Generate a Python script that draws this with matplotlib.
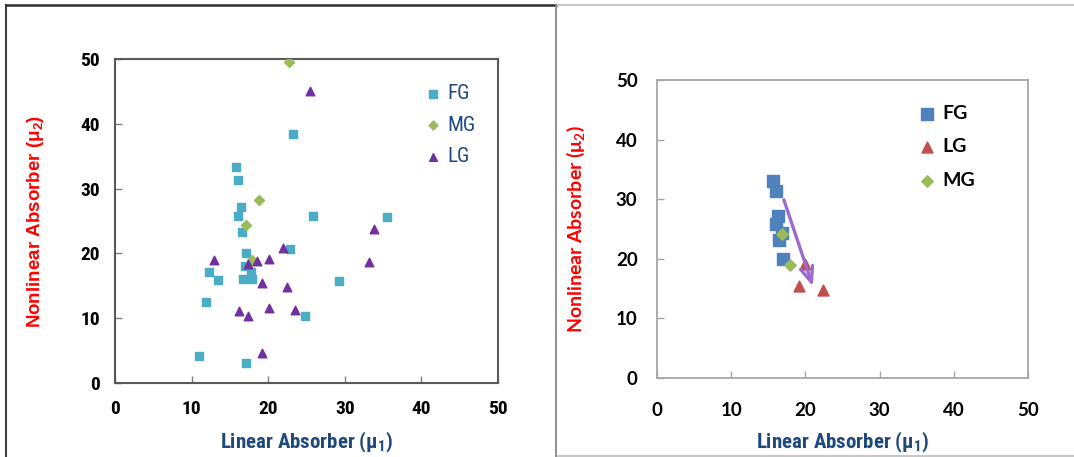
import matplotlib
matplotlib.use("Agg")
import matplotlib.pyplot as plt
from matplotlib.lines import Line2D
import matplotlib.font_manager as fm

# ---------------- data ----------------
# Left panel
fg_left_x = [11.0, 17.1, 11.9, 12.3, 13.5, 15.8, 16.0, 16.4, 16.0, 16.6, 17.1, 17.0, 17.7, 16.7, 17.9,
             22.8, 23.3, 25.9, 24.8, 29.3, 35.5]
fg_left_y = [4.2, 3.1, 12.5, 17.1, 15.9, 33.3, 31.4, 27.2, 25.8, 23.3, 20.0, 18.1, 17.1, 16.0, 16.0,
             20.7, 38.4, 25.8, 10.4, 15.8, 25.6]
mg_left_x = [22.7, 18.8, 17.1, 17.9]
mg_left_y = [49.5, 28.3, 24.4, 19.0]
lg_left_x = [25.4, 12.9, 17.3, 18.5, 20.1, 21.9, 19.2, 22.5, 16.2, 17.3, 20.1, 23.5, 19.2, 33.8, 33.2]
lg_left_y = [45.0, 19.0, 18.4, 18.9, 19.2, 20.9, 15.5, 14.8, 11.1, 10.3, 11.5, 11.3, 4.7, 23.8, 18.7]

# Right panel
fg_right_x = [15.7, 16.0, 16.3, 16.0, 16.9, 16.5, 17.0]
fg_right_y = [33.1, 31.4, 27.1, 25.8, 24.3, 23.2, 20.0]
lg_right_x = [20.0, 19.1, 22.4]
lg_right_y = [19.2, 15.5, 14.8]
mg_right_x = [16.9, 17.9]
mg_right_y = [24.2, 18.9]
arrow_start = (17.1, 29.9)
arrow_end = (21.0, 15.4)

ticks = [0, 10, 20, 30, 40, 50]

# ---------------- fonts ----------------
names = {f.name for f in fm.fontManager.ttflist}
narrow_cands = ['Liberation Sans Narrow', 'Roboto Condensed', 'DejaVu Sans Condensed', 'Open Sans Condensed']
narrow = [n for n in narrow_cands if n in names] + ['Liberation Sans', 'DejaVu Sans']
narrow = narrow[:1] + ['DejaVu Sans']
calib = ['Lato', 'DejaVu Sans']

W, H = 1074, 457
fig = plt.figure(figsize=(W / 100, H / 100), dpi=100)
fig.patch.set_facecolor('white')

def fx(px):
    return px / W

def fy(py):
    return 1 - py / H

# ---------------- left panel ----------------
axL = fig.add_axes([fx(115), fy(383), fx(498) - fx(115), fy(59) - fy(383)])
axL.scatter(fg_left_x, fg_left_y, marker='s', s=34, color='#4bacc6', label='FG', zorder=3)
axL.scatter(mg_left_x, mg_left_y, marker='D', s=26, color='#9bbb59', label='MG', zorder=3)
axL.scatter(lg_left_x, lg_left_y, marker='^', s=38, color='#7030a0', label='LG', zorder=3)
axL.set_xlim(0, 50)
axL.set_ylim(0, 50)
axL.set_xticks(ticks)
axL.set_yticks(ticks)
for sp in axL.spines.values():
    sp.set_color('#595959')
    sp.set_linewidth(1.5)
axL.tick_params(direction='in', length=5, color='#808080', width=1)
axL.tick_params(axis='x', pad=12)
axL.tick_params(axis='y', pad=11)
for lab in axL.get_xticklabels() + axL.get_yticklabels():
    lab.set_fontfamily(narrow)
    lab.set_fontweight('bold')
    lab.set_fontsize(14)
axL.set_xlabel(r'Linear Absorber ($\mathregular{\mu_1}$)', family=narrow, fontweight='bold',
               fontsize=15, color='#1f497d')
axL.set_ylabel(r'Nonlinear Absorber ($\mathregular{\mu_2}$)', family=['Liberation Sans', 'DejaVu Sans'],
               fontweight='bold', fontsize=13.5, color='#ff0000')
axL.xaxis.set_label_coords(0.5, -0.145)
axL.yaxis.set_label_coords(-0.18, 0.5)
legL = axL.legend(loc='upper left', bbox_to_anchor=(0.76, 0.98), frameon=False, handletextpad=0.3,
                  labelspacing=0.6, handlelength=0.8, markerscale=0.9,
                  prop=fm.FontProperties(family=narrow, size=15))
for t in legL.get_texts():
    t.set_color('#1f497d')

# ---------------- right panel ----------------
axR = fig.add_axes([fx(657), fy(378), fx(1028) - fx(657), fy(80) - fy(378)])
axR.scatter(fg_right_x, fg_right_y, marker='s', s=70, color='#4f81bd', label='FG', zorder=3)
axR.scatter(lg_right_x, lg_right_y, marker='^', s=62, color='#c0504d', label='LG', zorder=3)
axR.scatter(mg_right_x, mg_right_y, marker='D', s=34, color='#9bbb59', label='MG', zorder=4)
axR.annotate('', xy=arrow_end, xytext=arrow_start,
             arrowprops=dict(arrowstyle='->, head_width=0.45, head_length=1.1', color='#9b6bd0',
                             lw=2.4, shrinkA=0, shrinkB=0), zorder=5)
axR.set_xlim(0, 50)
axR.set_ylim(0, 50)
axR.set_xticks(ticks)
axR.set_yticks(ticks)
for sp in axR.spines.values():
    sp.set_color('#a6a6a6')
    sp.set_linewidth(1.3)
axR.tick_params(direction='in', length=5, color='#a6a6a6', width=1)
axR.tick_params(axis='x', pad=17)
axR.tick_params(axis='y', pad=14)
for lab in axR.get_xticklabels() + axR.get_yticklabels():
    lab.set_fontfamily(calib)
    lab.set_fontweight('bold')
    lab.set_fontsize(13.5)
axR.set_xlabel(r'Linear Absorber ($\mathregular{\mu_1}$)', family=narrow, fontweight='bold',
               fontsize=15, color='#1f497d')
axR.set_ylabel(r'Nonlinear Absorber ($\mathregular{\mu_2}$)', family=calib, fontweight='bold',
               fontsize=14, color='#ff0000')
axR.xaxis.set_label_coords(0.5, -0.175)
axR.yaxis.set_label_coords(-0.19, 0.5)
legR = axR.legend(loc='upper left', bbox_to_anchor=(0.66, 0.975), frameon=False, handletextpad=0.4,
                  labelspacing=0.85, handlelength=0.8, markerscale=1.0,
                  prop=fm.FontProperties(family=calib, size=14, weight='bold'))

# ---------------- panel borders ----------------
fig.add_artist(Line2D([fx(6), fx(6)], [fy(5), fy(457)], color='#404040', lw=1.5))
fig.add_artist(Line2D([fx(6), fx(556)], [fy(5), fy(5)], color='#303030', lw=1.8))
fig.add_artist(Line2D([fx(556), fx(556)], [fy(5), fy(457)], color='#888888', lw=1.3))
fig.add_artist(Line2D([fx(558), fx(1074)], [fy(5), fy(5)], color='#c8c8c8', lw=1.5))
fig.add_artist(Line2D([fx(558), fx(1074)], [fy(455.5), fy(455.5)], color='#c8c8c8', lw=1.5))

fig.savefig('out.png', dpi=100)
